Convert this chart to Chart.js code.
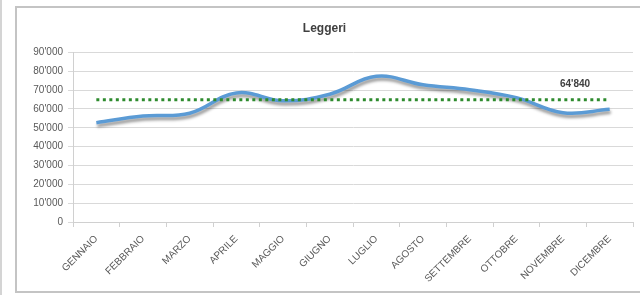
<!DOCTYPE html>
<html>
<head>
<meta charset="utf-8">
<script src="https://cdn.jsdelivr.net/npm/chart.js@4.4.1/dist/chart.umd.min.js"></script>
<style>
    html, body { margin: 0; padding: 0; background: #fff; }
    #wrap { position: relative; width: 640px; height: 295px; overflow: hidden; }
    #outerLine { position: absolute; left: 0; top: 0; width: 2px; height: 295px; background: #d4d4d4; }
    #frame { position: absolute; left: 15px; top: 6px; width: 640px; height: 287px; border: 2px solid #c4c4c4; box-sizing: border-box; }
    #chartBox { position: absolute; left: 0; top: 0; width: 640px; height: 295px; }
</style>
</head>
<body>
<div id="wrap">
    <div id="outerLine"></div>
    <div id="frame"></div>
    <div id="chartBox"><canvas id="leggeriChart"></canvas></div>
</div>
<script>
// Leggeri - monthly values with reference line

const months = ['GENNAIO', 'FEBBRAIO', 'MARZO', 'APRILE', 'MAGGIO', 'GIUGNO',
    'LUGLIO', 'AGOSTO', 'SETTEMBRE', 'OTTOBRE', 'NOVEMBRE', 'DICEMBRE'];
const leggeriValues = [52700, 56200, 57700, 68500, 64300, 67800, 77300, 72800, 70200, 66000, 58000, 59800];
const referenceValue = 64840;
const referenceLine = months.map(() => referenceValue);

const formatApos = value => {
    const n = Math.round(value);
    if (n < 1000) return String(n);
    const thousands = Math.floor(n / 1000);
    const rest = String(n % 1000).padStart(3, '0');
    return thousands + "'" + rest;
};

// grey drop shadow under the blue line
const lineShadow = {
    id: 'lineShadow',
    beforeDatasetDraw(chart, args) {
        if (args.index !== 1) return;
        const ctx = chart.ctx;
        ctx.save();
        ctx.shadowColor = 'rgba(0, 0, 0, 0.4)';
        ctx.shadowOffsetX = 1;
        ctx.shadowOffsetY = 3;
        ctx.shadowBlur = 3;
    },
    afterDatasetDraw(chart, args) {
        if (args.index !== 1) return;
        chart.ctx.restore();
    }
};

// value label above the reference line
const referenceLabel = {
    id: 'referenceLabel',
    afterDatasetsDraw(chart) {
        const meta = chart.getDatasetMeta(0);
        const pt = meta.data[10];
        if (!pt) return;
        const ctx = chart.ctx;
        ctx.save();
        ctx.font = 'bold 10px "Liberation Sans", Arial, sans-serif';
        ctx.fillStyle = '#404040';
        ctx.textAlign = 'center';
        ctx.textBaseline = 'bottom';
        ctx.fillText(formatApos(referenceValue), pt.x + 12, pt.y - 11);
        ctx.restore();
    }
};

const ctx = document.getElementById('leggeriChart').getContext('2d');
new Chart(ctx, {
    type: 'line',
    data: {
        labels: months,
        datasets: [{
            label: 'Media',
            data: referenceLine,
            borderColor: '#2e8b2e',
            borderWidth: 3,
            borderDash: [3, 3.5],
            borderCapStyle: 'butt',
            pointRadius: 0,
            fill: false,
            tension: 0
        }, {
            label: 'Leggeri',
            data: leggeriValues,
            borderColor: '#5b9bd5',
            borderWidth: 3.5,
            pointRadius: 0,
            fill: false,
            tension: 0.4
        }]
    },
    options: {
        responsive: true,
        maintainAspectRatio: false,
        animation: false,
        layout: {
            padding: { left: 16, top: 7, right: 7, bottom: 0 }
        },
        scales: {
            x: {
                offset: true,
                grid: {
                    offset: true,
                    drawOnChartArea: false,
                    drawTicks: true,
                    tickLength: 5,
                    color: '#d0d0d0'
                },
                border: { color: '#d0d0d0' },
                ticks: {
                    autoSkip: false,
                    maxRotation: 45,
                    minRotation: 45,
                    padding: 6,
                    color: '#595959',
                    font: { size: 10, family: '"Liberation Sans", Arial, sans-serif' }
                },
                afterFit: scale => { scale.height = 73; }
            },
            y: {
                min: 0,
                max: 90000,
                ticks: {
                    stepSize: 10000,
                    padding: 5,
                    color: '#595959',
                    font: { size: 10, family: '"Liberation Sans", Arial, sans-serif' },
                    callback: value => formatApos(value)
                },
                grid: {
                    color: '#d9d9d9',
                    tickLength: 5
                },
                border: { color: '#d0d0d0' },
                afterFit: scale => { scale.width = 57; }
            }
        },
        plugins: {
            legend: { display: false },
            tooltip: { enabled: false },
            title: {
                display: true,
                text: 'Leggeri',
                color: '#404040',
                font: { size: 12, weight: 'bold', family: '"Liberation Sans", Arial, sans-serif' },
                padding: { top: 14, bottom: 17 }
            }
        }
    },
    plugins: [lineShadow, referenceLabel]
});
</script>
</body>
</html>
